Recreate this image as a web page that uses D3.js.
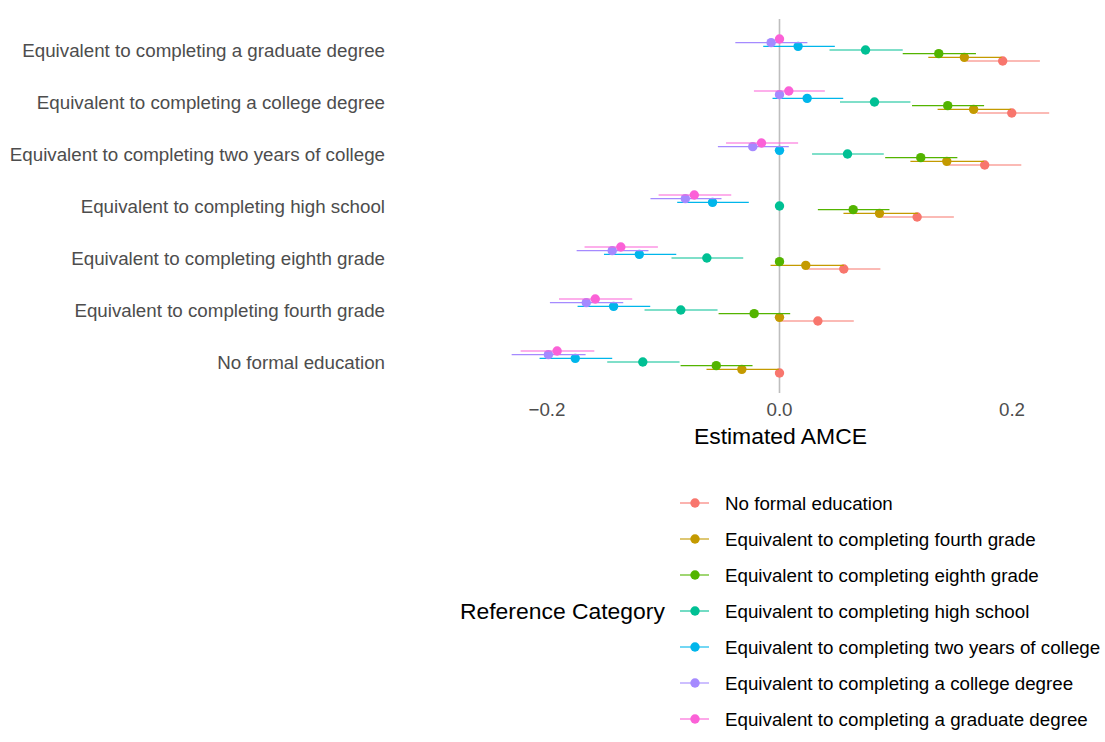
<!DOCTYPE html>
<html>
<head>
<meta charset="utf-8">
<script src="https://cdn.jsdelivr.net/npm/d3@7"></script>
<style>
  html, body { margin: 0; padding: 0; background: #ffffff; }
  text { font-family: "Liberation Sans", Arial, Helvetica, sans-serif; }
</style>
</head>
<body>
<svg id="chart" width="1105" height="742"></svg>
<script>
// Y-axis categories (bottom to top)
const categories = [
  "No formal education",
  "Equivalent to completing fourth grade",
  "Equivalent to completing eighth grade",
  "Equivalent to completing high school",
  "Equivalent to completing two years of college",
  "Equivalent to completing a college degree",
  "Equivalent to completing a graduate degree"
];
// Reference categories (series / legend order)
const seriesNames = categories.slice();
const seriesColors = ["#F8766D", "#C49A00", "#53B400", "#00C094", "#00B6EB", "#A58AFF", "#FB61D7"];

// Estimates per series, indexed by category (bottom to top)
const estNoFormal   = [0, 0.033, 0.0553, 0.1184, 0.1765, 0.1998, 0.192];
const loNoFormal    = [0, 0.0017, 0.0238, 0.087, 0.1456, 0.170, 0.161];
const hiNoFormal    = [0, 0.0639, 0.0868, 0.150, 0.208, 0.232, 0.224];

const estFourth     = [-0.0324, 0, 0.0226, 0.086, 0.1439, 0.167, 0.159];
const loFourth      = [-0.0628, 0, -0.0077, 0.055, 0.1126, 0.136, 0.128];
const hiFourth      = [-0.0006, 0, 0.0553, 0.119, 0.1757, 0.199, 0.191];

const estEighth     = [-0.0544, -0.0218, 0, 0.0634, 0.1215, 0.1447, 0.137];
const loEighth      = [-0.0851, -0.0524, 0, 0.033, 0.0909, 0.114, 0.106];
const hiEighth      = [-0.0232, 0.0092, 0, 0.0946, 0.153, 0.176, 0.169];

const estHigh       = [-0.1176, -0.0849, -0.0625, 0, 0.0585, 0.0817, 0.074];
const loHigh        = [-0.1482, -0.1161, -0.0929, 0, 0.028, 0.052, 0.043];
const hiHigh        = [-0.086, -0.0533, -0.0312, 0, 0.0897, 0.1126, 0.106];

const estTwoYears   = [-0.1757, -0.1427, -0.1206, -0.0576, 0, 0.0238, 0.016];
const loTwoYears    = [-0.2064, -0.1737, -0.151, -0.088, 0, -0.006, -0.014];
const hiTwoYears    = [-0.1439, -0.1112, -0.0888, -0.0264, 0, 0.0548, 0.0476];

const estCollege    = [-0.1988, -0.1662, -0.1439, -0.081, -0.023, 0, -0.0072];
const loCollege     = [-0.2304, -0.1975, -0.1745, -0.111, -0.053, 0, -0.038];
const hiCollege     = [-0.1668, -0.1344, -0.1127, -0.0499, 0.008, 0, 0.024];

const estGraduate   = [-0.1913, -0.1585, -0.1365, -0.0733, -0.0155, 0.008, 0];
const loGraduate    = [-0.2227, -0.1897, -0.1677, -0.104, -0.046, -0.022, 0];
const hiGraduate    = [-0.1593, -0.1267, -0.1046, -0.0415, 0.016, 0.039, 0];

const xTicks = [-0.2, 0.0, 0.2];

const estAll = [estNoFormal, estFourth, estEighth, estHigh, estTwoYears, estCollege, estGraduate];
const loAll  = [loNoFormal, loFourth, loEighth, loHigh, loTwoYears, loCollege, loGraduate];
const hiAll  = [hiNoFormal, hiFourth, hiEighth, hiHigh, hiTwoYears, hiCollege, hiGraduate];

const svg = d3.select("#chart");

const x = d3.scaleLinear().domain([-0.2, 0.2]).range([547, 1012]);
const y = d3.scalePoint().domain(categories).range([362, 50]);
const dodge = d3.scaleLinear().domain([0, seriesNames.length - 1]).range([11, -11]);

// zero reference line
svg.append("line")
  .attr("x1", x(0)).attr("x2", x(0))
  .attr("y1", 19).attr("y2", 393)
  .attr("stroke", "#BEBEBE").attr("stroke-width", 1.6);

// point ranges, series drawn in order
seriesNames.forEach((s, i) => {
  const g = svg.append("g");
  categories.forEach((c, j) => {
    const yy = y(c) + dodge(i);
    if (loAll[i][j] !== hiAll[i][j]) {
      g.append("line")
        .attr("x1", x(loAll[i][j])).attr("x2", x(hiAll[i][j]))
        .attr("y1", yy).attr("y2", yy)
        .attr("stroke", seriesColors[i]).attr("stroke-width", 1.1);
    }
    g.append("circle")
      .attr("cx", x(estAll[i][j])).attr("cy", yy)
      .attr("r", 4.7).attr("fill", seriesColors[i]);
  });
});

// y axis labels
svg.append("g").selectAll("text").data(categories).join("text")
  .attr("x", 385).attr("y", d => y(d) + 6.5)
  .attr("text-anchor", "end")
  .attr("font-size", 18.75).attr("fill", "#4D4D4D")
  .text(d => d);

// x axis tick labels
svg.append("g").selectAll("text").data(xTicks).join("text")
  .attr("x", d => x(d)).attr("y", 416)
  .attr("text-anchor", "middle")
  .attr("font-size", 18.75).attr("fill", "#4D4D4D")
  .text(d => d3.format(".1f")(d).replace("-", "\u2212"));

// x axis title
svg.append("text")
  .attr("x", (x(-0.2304) + x(0.232)) / 2).attr("y", 444)
  .attr("text-anchor", "middle")
  .attr("font-size", 22.9).attr("fill", "#000000")
  .text("Estimated AMCE");

// legend
const legY = d3.scalePoint().domain(seriesNames).range([503, 719]);
svg.append("text")
  .attr("x", 460).attr("y", 618.5)
  .attr("font-size", 22.9).attr("fill", "#000000")
  .text("Reference Category");
const leg = svg.append("g").selectAll("g").data(seriesNames).join("g")
  .attr("transform", d => `translate(0,${legY(d)})`);
leg.append("line")
  .attr("x1", 680).attr("x2", 709).attr("y1", 0).attr("y2", 0)
  .attr("stroke", (d, i) => seriesColors[i]).attr("stroke-width", 1.1);
leg.append("circle")
  .attr("cx", 695).attr("cy", 0).attr("r", 4.7)
  .attr("fill", (d, i) => seriesColors[i]);
leg.append("text")
  .attr("x", 725).attr("y", 6.5)
  .attr("font-size", 18.75).attr("fill", "#000000")
  .text(d => d);
</script>
</body>
</html>
